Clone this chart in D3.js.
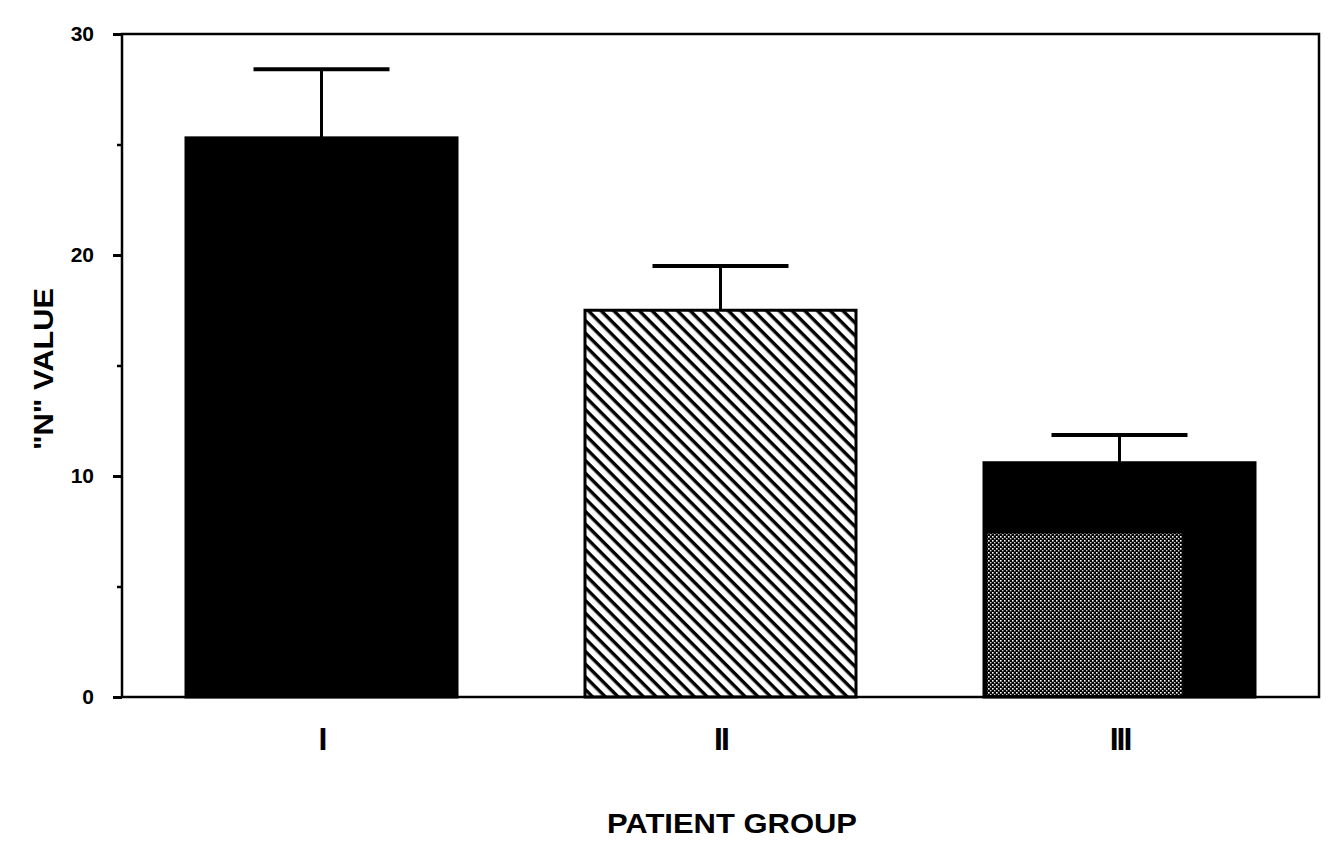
<!DOCTYPE html>
<html>
<head>
<meta charset="utf-8">
<script src="https://cdn.jsdelivr.net/npm/d3@7"></script>
<style>
  body { margin: 0; background: #fff; }
  svg { display: block; }
  text { font-family: "Liberation Sans", Arial, sans-serif; font-weight: bold; fill: #000; }
</style>
</head>
<body>
<div id="chart"></div>
<script>
// data
const groups = ["I", "II", "III"];
const values = [25.3, 17.5, 10.6];
const errors = [3.1, 2.0, 1.25];
const fills = ["solid", "hatch", "stipple"];
const innerShade = [0, 0, 7.4];   // stippled lower part of bar III
const yTicks = [0, 10, 20, 30];
const yMinor = [5, 15, 25];

const width = 1334, height = 846;
const plotL = 122, plotR = 1319, plotT = 34, plotB = 697;

const svg = d3.select("#chart").append("svg")
    .attr("width", width)
    .attr("height", height);

const defs = svg.append("defs");

// diagonal hatch for group II
const hatch = defs.append("pattern")
    .attr("id", "hatch")
    .attr("patternUnits", "userSpaceOnUse")
    .attr("width", 9).attr("height", 9)
    .attr("patternTransform", "rotate(45)");
hatch.append("rect").attr("width", 9).attr("height", 9).attr("fill", "#fff");
hatch.append("rect").attr("x", 0).attr("y", 0).attr("width", 9).attr("height", 3.4).attr("fill", "#000");

// dotted stipple for group III
const stip = defs.append("pattern")
    .attr("id", "stipple")
    .attr("patternUnits", "userSpaceOnUse")
    .attr("width", 4).attr("height", 4);
stip.append("rect").attr("width", 4).attr("height", 4).attr("fill", "#000");
stip.append("rect").attr("x", 0).attr("y", 0).attr("width", 1.6).attr("height", 1.6).attr("fill", "#fff");
stip.append("rect").attr("x", 2).attr("y", 2).attr("width", 1.4).attr("height", 1.4).attr("fill", "#ddd");

const x = d3.scalePoint().domain(groups).range([plotL, plotR]).padding(0.5);
const y = d3.scaleLinear().domain([0, 30]).range([plotB, plotT]);
const barW = 271;

// bars
groups.forEach((g, i) => {
    const cx = x(g);
    const fill = fills[i] === "hatch" ? "url(#hatch)" : "#000";
    svg.append("rect")
        .attr("x", cx - barW / 2)
        .attr("y", y(values[i]))
        .attr("width", barW)
        .attr("height", y(0) - y(values[i]))
        .attr("fill", fill)
        .attr("stroke", "#000")
        .attr("stroke-width", 3);

    if (innerShade[i] > 0) {
        svg.append("rect")
            .attr("x", cx - barW / 2 + 3)
            .attr("y", y(innerShade[i]))
            .attr("width", barW * 0.72)
            .attr("height", y(0) - y(innerShade[i]) - 2)
            .attr("fill", "url(#stipple)");
    }

    // error bar
    svg.append("line")
        .attr("x1", cx).attr("x2", cx)
        .attr("y1", y(values[i])).attr("y2", y(values[i] + errors[i]))
        .attr("stroke", "#000").attr("stroke-width", 3);
    svg.append("line")
        .attr("x1", cx - 68).attr("x2", cx + 68)
        .attr("y1", y(values[i] + errors[i])).attr("y2", y(values[i] + errors[i]))
        .attr("stroke", "#000").attr("stroke-width", 4);
});

// frame
svg.append("rect")
    .attr("x", plotL).attr("y", plotT)
    .attr("width", plotR - plotL).attr("height", plotB - plotT)
    .attr("fill", "none").attr("stroke", "#000").attr("stroke-width", 2.5);

// y axis
const yAxis = svg.append("g")
    .attr("transform", `translate(${plotL},0)`)
    .call(d3.axisLeft(y).tickValues(yTicks).tickSize(9).tickPadding(19).tickFormat(d3.format("d")));
yAxis.select(".domain").remove();
yAxis.selectAll(".tick line").attr("stroke", "#000").attr("stroke-width", 3);
yAxis.selectAll(".tick text").style("font-size", "21px");

svg.append("g")
    .attr("transform", `translate(${plotL},0)`)
    .call(d3.axisLeft(y).tickValues(yMinor).tickSize(5).tickFormat(""))
    .call(g => g.select(".domain").remove())
    .selectAll(".tick line").attr("stroke", "#000").attr("stroke-width", 2.5);

// x axis labels
const xAxis = svg.append("g")
    .attr("transform", `translate(0,${plotB})`)
    .call(d3.axisBottom(x).tickSize(0));
xAxis.select(".domain").remove();
xAxis.selectAll(".tick text")
    .attr("y", 53)
    .attr("dy", 0)
    .style("font-size", "32px")
    .style("letter-spacing", "-2px");

// axis titles
svg.append("text")
    .attr("x", 732)
    .attr("y", 833)
    .attr("text-anchor", "middle")
    .attr("textLength", 250)
    .attr("lengthAdjust", "spacingAndGlyphs")
    .style("font-size", "28px")
    .text("PATIENT GROUP");

svg.append("text")
    .attr("transform", `translate(53,369) rotate(-90)`)
    .attr("text-anchor", "middle")
    .attr("textLength", 162)
    .attr("lengthAdjust", "spacingAndGlyphs")
    .style("font-size", "28px")
    .text("\"N\" VALUE");
</script>
</body>
</html>
